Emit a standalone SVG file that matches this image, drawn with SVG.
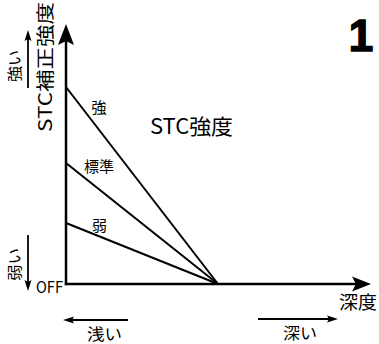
<svg xmlns="http://www.w3.org/2000/svg" width="379" height="344" viewBox="0 0 379 344">
<style>
.t{font-family:"Noto Sans CJK JP","Liberation Sans",sans-serif;fill:#000}
.ax{stroke:#000;stroke-width:2.5;fill:none}
.ln{stroke:#000;stroke-width:2;fill:none}
.sm{stroke:#000;stroke-width:1.8;fill:none}
</style>
<rect width="379" height="344" fill="#fff"/>
<g id="connectors">
<line class="ax" x1="66" y1="285.2" x2="66" y2="40"/>
<polygon points="66,24 58,45 66,41 74,45" fill="#000"/>
<line class="ax" x1="64.8" y1="284" x2="356" y2="284"/>
<polygon points="371,284 352,276.5 356,284 352,291.5" fill="#000"/>
<line class="ln" x1="66" y1="87" x2="218" y2="284"/>
<line class="ln" x1="66" y1="163" x2="218" y2="284"/>
<line class="ln" x1="66" y1="223" x2="218" y2="284"/>
<line class="sm" x1="28" y1="88" x2="28" y2="38"/>
<polygon points="28,30 24.5,41 28,39 31.5,41" fill="#000"/>
<line class="sm" x1="28" y1="235" x2="28" y2="283"/>
<polygon points="28,291 24.5,280 28,282 31.5,280" fill="#000"/>
<line class="sm" x1="128" y1="320" x2="71" y2="320"/>
<polygon points="63,320 74,316.5 72,320 74,323.5" fill="#000"/>
<line class="sm" x1="258" y1="319" x2="330" y2="319"/>
<polygon points="338,319 327,315.5 329,319 327,322.5" fill="#000"/>
</g>
<g id="labels">
<text class="t" x="99" y="113" font-size="15" text-anchor="middle">強</text>
<text class="t" x="99" y="172" font-size="15" text-anchor="middle">標準</text>
<text class="t" x="99.5" y="231" font-size="15" text-anchor="middle">弱</text>
<text class="t" x="150" y="134" font-size="21" textLength="83" lengthAdjust="spacingAndGlyphs">STC強度</text>
<text class="t" x="36" y="293" font-size="16" textLength="27" lengthAdjust="spacingAndGlyphs">OFF</text>
<text class="t" x="87" y="340" font-size="16" textLength="35" lengthAdjust="spacingAndGlyphs">浅い</text>
<text class="t" x="283" y="339" font-size="16" textLength="34" lengthAdjust="spacingAndGlyphs">深い</text>
<text class="t" x="339" y="309" font-size="18" textLength="38" lengthAdjust="spacingAndGlyphs">深度</text>
<text x="361" y="51" font-family="Liberation Sans,Arial,sans-serif" font-weight="bold" font-size="44" text-anchor="middle" stroke="#000" stroke-width="1.5">1</text>
<text class="t" transform="translate(52,132) rotate(-90)" font-size="18" textLength="130" lengthAdjust="spacingAndGlyphs">STC補正強度</text>
<text class="t" transform="translate(20,82) rotate(-90)" font-size="15" textLength="32" lengthAdjust="spacingAndGlyphs">強い</text>
<text class="t" transform="translate(20,281) rotate(-90)" font-size="15" textLength="33" lengthAdjust="spacingAndGlyphs">弱い</text>
</g>
</svg>
